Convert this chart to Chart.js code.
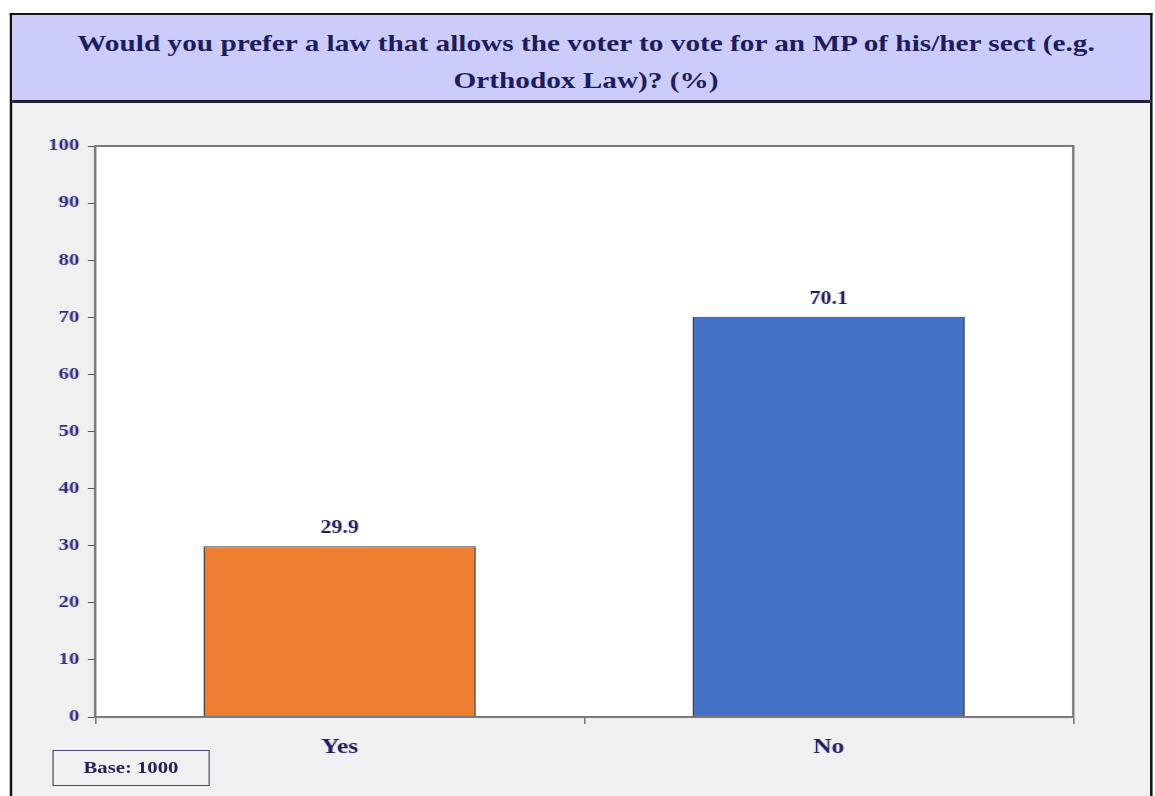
<!DOCTYPE html>
<html>
<head>
<meta charset="utf-8">
<script src="https://cdn.jsdelivr.net/npm/chart.js@4/dist/chart.umd.min.js"></script>
<style>
  html, body { margin: 0; padding: 0; background: #fff; }
  body { width: 1155px; height: 796px; position: relative; overflow: hidden; font-family: "Liberation Serif", "Times New Roman", serif; }
  /* the original slide is stretched sideways, so the whole page is drawn narrow and widened */
  .page { position: absolute; left: 0; top: 0; width: 947px; height: 796px; transform: scaleX(1.2196); transform-origin: 0 0; }
  .frame { position: absolute; left: 8px; top: 13px; width: 933px; height: 790px; border: 2px solid #111; border-bottom: none; background: #f0f0f0; }
  .title { position: absolute; left: 10px; top: 15px; width: 933px; height: 88px; background: #ccccfb; border-bottom: 3px solid #23233f;
           color: #1c1c5e; font-weight: bold; font-size: 24px; line-height: 37px; text-align: center; box-sizing: border-box; padding: 10px 0 0 8px; }
  .base { position: absolute; left: 42.6px; top: 750px; width: 129.6px; height: 36px; border: 1px solid #4a4a6a; box-sizing: border-box;
          color: #23235e; font-weight: bold; font-size: 17px; line-height: 34px; text-align: center; }
  canvas { position: absolute; left: 0; top: 0; }
</style>
</head>
<body>
<div class="page">
  <div class="frame"></div>
  <div class="title">Would you prefer a law that allows the voter to vote for an MP of his/her sect (e.g.<br>Orthodox Law)? (%)</div>
  <canvas id="c" width="947" height="796" style="width:947px;height:796px"></canvas>
  <div class="base">Base: 1000</div>
</div>
<script>
  'use strict';

  const categories = ['Yes', 'No'];
  const values = [29.9, 70.1];
  const barColors = ['#ed7d31', '#4472c4'];
  const yMin = 0;
  const yMax = 100;
  const yStep = 10;

  const serif = '"Liberation Serif", "Times New Roman", serif';

  // white plot area + grey frame round it
  const plotFrame = {
    id: 'plotFrame',
    beforeDatasetsDraw(chart) {
      const { ctx, chartArea: a } = chart;
      ctx.save();
      ctx.fillStyle = '#ffffff';
      ctx.fillRect(a.left, a.top, a.right - a.left, a.bottom - a.top);
      ctx.restore();
    },
    afterDatasetsDraw(chart) {
      const { ctx, chartArea: a } = chart;
      ctx.save();
      ctx.strokeStyle = '#7a7a7a';
      ctx.lineWidth = 2;
      ctx.strokeRect(a.left, a.top, a.right - a.left, a.bottom - a.top);
      ctx.restore();
    }
  };

  // value labels above bars
  const valueLabels = {
    id: 'valueLabels',
    afterDatasetsDraw(chart) {
      const { ctx } = chart;
      const meta = chart.getDatasetMeta(0);
      ctx.save();
      ctx.font = 'bold 18px ' + serif;
      ctx.fillStyle = '#1c1c5e';
      ctx.textAlign = 'center';
      ctx.textBaseline = 'alphabetic';
      meta.data.forEach((bar, i) => {
        ctx.fillText(values[i].toFixed(1), bar.x, bar.y - 13);
      });
      ctx.restore();
    }
  };

  new Chart(document.getElementById('c'), {
    type: 'bar',
    data: {
      labels: categories,
      datasets: [{
        data: values,
        backgroundColor: barColors,
        borderColor: '#3a3a3a',
        borderWidth: 1,
        categoryPercentage: 1,
        barPercentage: 0.556
      }]
    },
    options: {
      responsive: false,
      devicePixelRatio: 1,
      animation: false,
      layout: { padding: { top: 146, left: 0, right: 67, bottom: 29 } },
      plugins: { legend: { display: false }, tooltip: { enabled: false } },
      scales: {
        x: {
          offset: true,
          border: { display: false },
          grid: { offset: true, drawOnChartArea: false, drawTicks: true, tickLength: 7, color: '#555' },
          ticks: { color: '#1c1c5e', padding: 11, font: { family: serif, size: 21, weight: 'bold' } },
          afterFit(s) { s.height = 50; }
        },
        y: {
          min: yMin,
          max: yMax,
          border: { display: false },
          grid: { drawOnChartArea: false, drawTicks: true, tickLength: 6, color: '#555' },
          ticks: { stepSize: yStep, color: '#2e2e80', padding: 7, font: { family: serif, size: 17, weight: 'bold' } },
          afterFit(s) { s.width = 78; }
        }
      }
    },
    plugins: [plotFrame, valueLabels]
  });
</script>
</body>
</html>
